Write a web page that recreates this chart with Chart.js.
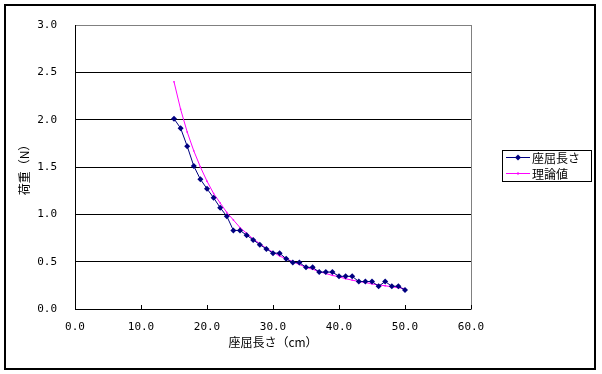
<!DOCTYPE html>
<html><head><meta charset="utf-8">
<script src="https://cdn.jsdelivr.net/npm/chart.js@4/dist/chart.umd.min.js"></script>
<style>html,body{margin:0;padding:0;background:#fff}#wrap{width:602px;height:374px;position:relative}</style>
</head><body><div id="wrap"><canvas id="c"></canvas></div>
<script>
const lengths = [15,16,17,18,19,20,21,22,23,24,25,26,27,28,29,30,31,32,33,34,35,36,37,38,39,40,41,42,43,44,45,46,47,48,49,50];
const measured = [2.01,1.91,1.72,1.51,1.37,1.27,1.175,1.07,0.98,0.83,0.83,0.78,0.73,0.68,0.635,0.59,0.59,0.53,0.49,0.49,0.44,0.44,0.39,0.39,0.39,0.345,0.345,0.345,0.29,0.29,0.29,0.24,0.29,0.24,0.24,0.20];
const theory = [2.40,2.11,1.87,1.67,1.50,1.35,1.22,1.12,1.02,0.94,0.86,0.80,0.74,0.69,0.64,0.60,0.56,0.53,0.50,0.47,0.44,0.42,0.395,0.375,0.355,0.34,0.32,0.305,0.29,0.28,0.265,0.255,0.245,0.235,0.225,0.215];
const seriesNames = ['座屈長さ','理論値'];
const xTicks = [0,10,20,30,40,50,60];
const yTicks = [0,0.5,1.0,1.5,2.0,2.5,3.0];
const xTitle = '座屈長さ（cm）';
const yTitle = '荷重（N）';

const tickFont = {family:'"DejaVu Sans Mono", monospace', size:11};
const jpFont = '"Noto Sans CJK JP", sans-serif';

const decor = {
  id:'decor',
  beforeDraw(chart){
    const ctx = chart.ctx;
    ctx.save(); ctx.fillStyle='#fff'; ctx.fillRect(0,0,chart.width,chart.height); ctx.restore();
  },
  afterDraw(chart){
    const {ctx, chartArea:a, scales:{x}} = chart;
    ctx.save();
    ctx.strokeStyle='#808080'; ctx.lineWidth=1;
    ctx.beginPath();
    const r = Math.round(a.right)+0.5;
    ctx.moveTo(r, Math.round(a.top)); ctx.lineTo(r, Math.round(a.bottom)+1);
    ctx.stroke();
    ctx.strokeStyle='#000';
    ctx.beginPath();
    xTicks.forEach(v=>{
      const px = Math.round(x.getPixelForValue(v))+0.5;
      ctx.moveTo(px, a.bottom); ctx.lineTo(px, a.bottom-4);
    });
    ctx.stroke();
    const lx=502.5, ly=150.5, lw=89, lh=31;
    ctx.fillStyle='#fff'; ctx.fillRect(lx,ly,lw,lh);
    ctx.strokeStyle='#000'; ctx.lineWidth=1; ctx.strokeRect(lx,ly,lw,lh);
    const rows=[157,173];
    chart.data.datasets.forEach((ds,i)=>{
      const yy = rows[i]+0.5;
      ctx.strokeStyle = ds.borderColor; ctx.lineWidth=1;
      ctx.beginPath(); ctx.moveTo(506,yy); ctx.lineTo(530,yy); ctx.stroke();
      ctx.fillStyle = ds.borderColor;
      if(i===0){
        ctx.beginPath(); ctx.moveTo(518,yy-3); ctx.lineTo(521,yy); ctx.lineTo(518,yy+3); ctx.lineTo(515,yy); ctx.closePath(); ctx.fill();
      } else {
        ctx.fillRect(517,yy-1,2,2);
      }
      ctx.fillStyle='#000';
      ctx.font = '12px '+jpFont;
      ctx.textBaseline='middle'; ctx.textAlign='left';
      ctx.fillText(ds.label, 532, rows[i]+1);
    });
    ctx.strokeStyle='#000'; ctx.lineWidth=2;
    ctx.strokeRect(5,5,590,364);
    ctx.restore();
  }
};

new Chart(document.getElementById('c'), {
  type:'scatter',
  data:{
    datasets:[
      {label:seriesNames[0], data:lengths.map((v,i)=>({x:v,y:measured[i]})), showLine:true,
       borderColor:'#000080', backgroundColor:'#000080', borderWidth:1,
       pointStyle:'rectRot', pointRadius:3, pointBorderWidth:0, pointHoverRadius:3, order:1},
      {label:seriesNames[1], data:lengths.map((v,i)=>({x:v,y:theory[i]})), showLine:true,
       borderColor:'#FF00FF', backgroundColor:'#FF00FF', borderWidth:1,
       pointStyle:'rect', pointRadius:1, pointBorderWidth:0, pointHoverRadius:1, order:2}
    ]
  },
  options:{
    responsive:true, maintainAspectRatio:false, animation:false,
    layout:{padding:{left:0,right:131,top:25,bottom:0}},
    plugins:{legend:{display:false}, tooltip:{enabled:false}},
    scales:{
      x:{
        type:'linear', min:0, max:60,
        afterBuildTicks:s=>{ s.ticks = xTicks.map(v=>({value:v})); },
        afterFit:s=>{ s.height = 65; },
        ticks:{font:tickFont, color:'#000', padding:12, maxRotation:0, callback:v=>Number(v).toFixed(1)},
        grid:{color:'rgba(0,0,0,0)', drawTicks:false},
        border:{color:'#000', width:1},
        title:{display:true, text:xTitle, color:'#000', font:{family:jpFont, size:12}, padding:{top:0,bottom:24}}
      },
      y:{
        type:'linear', min:0, max:3,
        afterBuildTicks:s=>{ s.ticks = yTicks.map(v=>({value:v})); },
        afterFit:s=>{ s.width = 75; },
        ticks:{font:tickFont, color:'#000', padding:18, callback:v=>Number(v).toFixed(1)},
        grid:{color:c=>(c.tick && c.tick.value===3)?'#808080':'#000', drawTicks:false, lineWidth:1},
        border:{color:'#000', width:1},
        title:{display:true, text:yTitle, color:'#000', font:{family:jpFont, size:12}, padding:{top:17,bottom:0}}
      }
    }
  },
  plugins:[decor]
});
</script></body></html>
